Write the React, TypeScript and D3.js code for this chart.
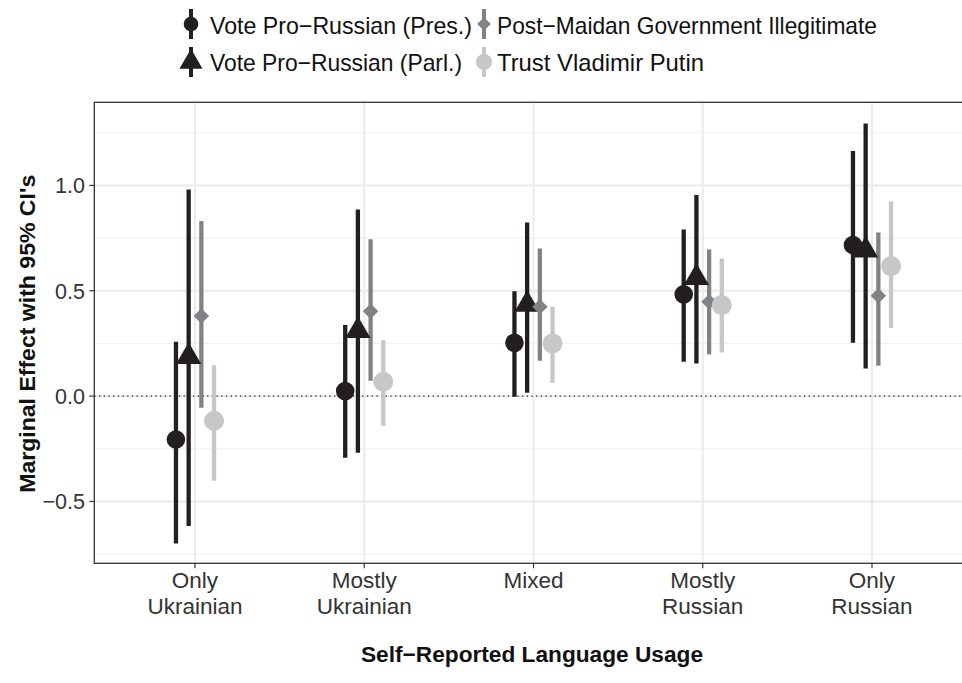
import React from "react";
import * as d3 from "d3";

const categories = ["Only Ukrainian", "Mostly Ukrainian", "Mixed", "Mostly Russian", "Only Russian"];
const categoryLines = [["Only", "Ukrainian"], ["Mostly", "Ukrainian"], ["Mixed"], ["Mostly", "Russian"], ["Only", "Russian"]];

const seriesNames = ["Vote Pro−Russian  (Pres.)", "Vote Pro−Russian (Parl.)", "Post−Maidan Government Illegitimate", "Trust Vladimir Putin"];

const presEst = [-0.206, 0.024, 0.253, 0.483, 0.717];
const presLo = [-0.699, -0.293, -0.003, 0.163, 0.253];
const presHi = [0.258, 0.337, 0.498, 0.791, 1.163];

const parlEst = [0.187, 0.31, 0.435, 0.562, 0.692];
const parlLo = [-0.616, -0.269, 0.016, 0.155, 0.131];
const parlHi = [0.981, 0.886, 0.824, 0.954, 1.294];

const illegEst = [0.38, 0.403, 0.424, 0.448, 0.476];
const illegLo = [-0.055, 0.073, 0.168, 0.198, 0.144];
const illegHi = [0.831, 0.744, 0.701, 0.696, 0.777];

const putinEst = [-0.117, 0.068, 0.25, 0.432, 0.617];
const putinLo = [-0.402, -0.141, 0.063, 0.207, 0.324];
const putinHi = [0.147, 0.266, 0.424, 0.653, 0.925];

const yTicks = [-0.5, 0, 0.5, 1.0];
const yMinor = [-0.75, -0.25, 0.25, 0.75, 1.25];

const W = 962, H = 683;
const panel = { left: 94.3, top: 102.3, bottom: 563.3, right: 973.5 };

const colors = ["#231f20", "#231f20", "#808285", "#c6c7c9"];
const shapes = ["circle", "triangle", "diamond", "circle"];

type Row = { cat: string; est: number; lo: number; hi: number };
const series: Row[][] = [
  [presEst, presLo, presHi],
  [parlEst, parlLo, parlHi],
  [illegEst, illegLo, illegHi],
  [putinEst, putinLo, putinHi],
].map(([e, l, h]) => categories.map((c, i) => ({ cat: c, est: e[i], lo: l[i], hi: h[i] })));

function Shape({ kind, x, y, color, size }: { kind: string; x: number; y: number; color: string; size: number }) {
  if (kind === "circle") return <circle cx={x} cy={y} r={size} fill={color} />;
  if (kind === "triangle") {
    const sym = d3.symbol(d3.symbolTriangle, size * size * 4.1)();
    return <path d={sym as string} transform={`translate(${x},${y})`} fill={color} />;
  }
  const s = size * 0.9;
  return <path d={`M${x},${y - s}L${x + s},${y}L${x},${y + s}L${x - s},${y}Z`} fill={color} />;
}

export default function App() {
  const x = d3.scalePoint<string>().domain(categories).range([195, 872]);
  const y = d3.scaleLinear().domain([-0.7935, 1.3945]).range([panel.bottom, panel.top]);
  const step = x.step();
  const dodge = 0.3 * step;
  const offsets = [-3 / 8, -1 / 8, 1 / 8, 3 / 8].map((f) => f * dodge);
  const sizes = [9.3, 8.2, 8.6, 10];

  const font = "'Liberation Sans', Arial, Helvetica, sans-serif";
  const legendText = [
    { x: 210, y: 25, len: 262 },
    { x: 210, y: 62, len: 252 },
    { x: 497, y: 25, len: 380 },
    { x: 497, y: 62, len: 207 },
  ];
  const legendKeys = [
    { x: 191, y: 24 },
    { x: 191, y: 62 },
    { x: 484, y: 24 },
    { x: 484, y: 62 },
  ];
  const legendSizes = [7.3, 7.5, 7.5, 8];

  return (
    <svg width={W} height={H} style={{ position: "absolute", left: 0, top: 0, background: "#fff" }} fontFamily={font}>
      <defs>
        <clipPath id="pclip">
          <rect x={panel.left} y={panel.top} width={panel.right - panel.left} height={panel.bottom - panel.top} />
        </clipPath>
      </defs>
      <rect x={0} y={0} width={W} height={H} fill="#fff" />
      {/* grid */}
      <g clipPath="url(#pclip)">
        {yMinor.map((t) => (
          <line key={"mn" + t} x1={panel.left} x2={panel.right} y1={y(t)} y2={y(t)} stroke="#f2f2f2" strokeWidth={1.2} />
        ))}
        {yTicks.map((t) => (
          <line key={"mj" + t} x1={panel.left} x2={panel.right} y1={y(t)} y2={y(t)} stroke="#ebebeb" strokeWidth={2} />
        ))}
        {categories.map((c) => (
          <line key={"xg" + c} x1={x(c)} x2={x(c)} y1={panel.top} y2={panel.bottom} stroke="#ebebeb" strokeWidth={2} />
        ))}
        <line x1={panel.left} x2={panel.right} y1={y(0)} y2={y(0)} stroke="#222" strokeWidth={1.3} strokeDasharray="1.3,3.4" />
        {/* lines */}
        {series.map((rows, si) =>
          rows.map((r) => (
            <line
              key={"l" + si + r.cat}
              x1={(x(r.cat) as number) + offsets[si]}
              x2={(x(r.cat) as number) + offsets[si]}
              y1={y(r.lo)}
              y2={y(r.hi)}
              stroke={colors[si]}
              strokeWidth={4.3}
            />
          ))
        )}
        {series.map((rows, si) =>
          rows.map((r) => (
            <Shape
              key={"p" + si + r.cat}
              kind={shapes[si]}
              x={(x(r.cat) as number) + offsets[si]}
              y={y(r.est)}
              color={colors[si]}
              size={sizes[si]}
            />
          ))
        )}
      </g>
      {/* border */}
      <rect x={panel.left} y={panel.top} width={panel.right - panel.left} height={panel.bottom - panel.top} fill="none" stroke="#333" strokeWidth={1.3} />
      {/* y axis */}
      {yTicks.map((t) => (
        <g key={"yt" + t}>
          <line x1={panel.left - 5} x2={panel.left} y1={y(t)} y2={y(t)} stroke="#333" strokeWidth={1.2} />
          <text x={85} y={y(t)} dy="0.36em" textAnchor="end" fontSize={21.5} fill="#333">
            {d3.format(".1f")(t).replace("-", "−")}
          </text>
        </g>
      ))}
      {/* x axis */}
      {categories.map((c, i) => (
        <g key={"xt" + c}>
          <line x1={x(c)} x2={x(c)} y1={panel.bottom} y2={panel.bottom + 5} stroke="#333" strokeWidth={1.2} />
          {categoryLines[i].map((ln, j) => (
            <text key={j} x={x(c)} y={588 + j * 26} textAnchor="middle" fontSize={22.5} fill="#333">
              {ln}
            </text>
          ))}
        </g>
      ))}
      <text x={532} y={662} textAnchor="middle" fontSize={22.5} fontWeight="bold" fill="#111" textLength={342} lengthAdjust="spacingAndGlyphs">
        Self−Reported Language Usage
      </text>
      <text transform={`translate(35,${(panel.top + panel.bottom) / 2 + 1}) rotate(-90)`} textAnchor="middle" fontSize={22.5} fontWeight="bold" fill="#111" textLength={318} lengthAdjust="spacingAndGlyphs">
        Marginal Effect with 95% CI's
      </text>
      {/* legend */}
      {seriesNames.map((name, i) => (
        <g key={"lg" + i}>
          <line x1={legendKeys[i].x} x2={legendKeys[i].x} y1={legendKeys[i].y - 15} y2={legendKeys[i].y + 15} stroke={colors[i]} strokeWidth={4} />
          <Shape kind={shapes[i]} x={legendKeys[i].x} y={legendKeys[i].y} color={colors[i]} size={legendSizes[i]} />
          <text x={legendText[i].x} y={legendText[i].y} dy="0.36em" fontSize={24} fill="#111" textLength={legendText[i].len} lengthAdjust="spacingAndGlyphs">
            {name}
          </text>
        </g>
      ))}
    </svg>
  );
}
